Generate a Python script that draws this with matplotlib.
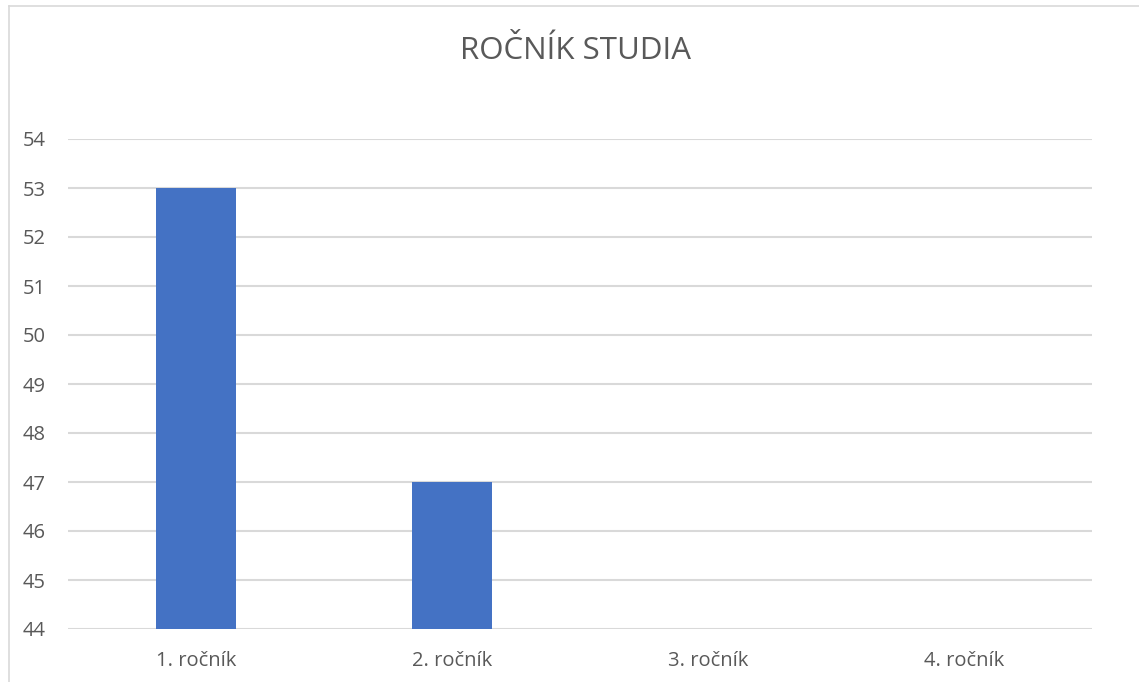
import numpy as np
import matplotlib.pyplot as plt
from matplotlib.lines import Line2D

# data
categories = ["1. ročník", "2. ročník", "3. ročník", "4. ročník"]
values = [53, 47, 0, 0]
y_ticks = list(range(44, 55))

plt.rcParams['font.family'] = ['Open Sans', 'DejaVu Sans']

fig = plt.figure(figsize=(11.39, 6.82), dpi=100)
ax = fig.add_axes([68/1139, 1 - 629/682, 1024/1139, 490/682])

x = np.arange(len(categories))
ax.bar(x, values, width=0.3125, color="#4472C4", zorder=3)

ax.set_xlim(-0.5, len(categories) - 0.5)
ax.set_ylim(44, 54)
ax.set_yticks(y_ticks)
ax.set_xticks(x)
ax.set_xticklabels(categories)
ax.tick_params(axis="both", length=0, labelsize=14.5, labelcolor="#595959")
ax.tick_params(axis="y", pad=16)
ax.tick_params(axis="x", pad=16)
ax.grid(axis="y", color="#D9D9D9", linewidth=1.5, zorder=0)
for s in ax.spines.values():
    s.set_visible(False)

fig.text(575/1139, 1 - 51/682, "ROČNÍK STUDIA", ha="center", va="center",
         fontsize=22.5, color="#595959")

# outer frame (top and left visible)
fig.add_artist(Line2D([9/1139, 1], [1 - 6/682, 1 - 6/682], color="#D9D9D9", lw=1.2))
fig.add_artist(Line2D([9/1139, 9/1139], [0, 1 - 6/682], color="#D9D9D9", lw=1.2))

fig.savefig("out.png", dpi=100)
